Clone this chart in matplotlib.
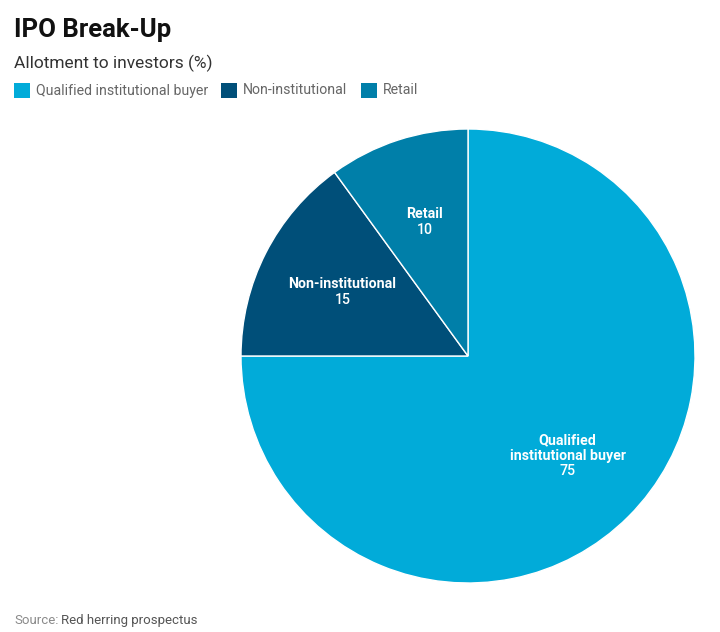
import matplotlib
matplotlib.use("Agg")
import matplotlib.pyplot as plt
from matplotlib.patches import Rectangle
import numpy as np

plt.rcParams['font.family'] = ['Roboto', 'DejaVu Sans']

# datos
categorias = ["Qualified institutional buyer", "Non-institutional", "Retail"]
etiquetas = [["Qualified", "institutional buyer"], ["Non-institutional"], ["Retail"]]
valores = [75, 15, 10]
colores = ["#01abd9", "#004f79", "#007fa9"]

W, H = 720, 632
fig = plt.figure(figsize=(W / 100, H / 100), dpi=100)

# pastel: centro (468, 356), radio 227 px
cx, cy, r = 468, 356, 227
ax = fig.add_axes([(cx - r) / W, 1 - (cy + r) / H, 2 * r / W, 2 * r / H])
ax.pie(valores, colors=colores, startangle=90, counterclock=False,
       wedgeprops=dict(edgecolor="white", linewidth=1))
ax.set_xlim(-1, 1)
ax.set_ylim(-1, 1)
ax.set_aspect("equal")
ax.axis("off")

# etiquetas dentro del pastel, bloque centrado en 0.62 del radio
inicio = 90.0
paso = 15.5  # px entre lineas
for lineas, v in zip(etiquetas, valores):
	ang = np.deg2rad(inicio - v / 100 * 360 / 2)
	inicio -= v / 100 * 360
	x, y = 0.62 * np.cos(ang), 0.62 * np.sin(ang)
	todas = lineas + [str(v)]
	n = len(todas)
	for k, txt in enumerate(todas):
		dy = ((n - 1) / 2 - k) * paso
		peso = "medium" if k == n - 1 else "bold"
		ax.annotate(txt, (x, y), xytext=(0, dy), textcoords="offset pixels",
		            ha="center", va="center", color="white",
		            fontsize=10.2, fontweight=peso)

# titulos
fig.text(14 / W, 1 - 37 / H, "IPO Break-Up", fontsize=18.5, fontweight="bold",
         color="#111111", va="baseline")
fig.text(14 / W, 1 - 68 / H, "Allotment to investors (%)", fontsize=12.5,
         color="#333333", va="baseline")

# leyenda
leyenda_x = [14, 221, 361]
for x0, c, nombre in zip(leyenda_x, colores, categorias):
	fig.patches.append(Rectangle((x0 / W, 1 - 98 / H), 16 / W, 15 / H,
	                             transform=fig.transFigure, facecolor=c,
	                             edgecolor="none"))
	fig.text((x0 + 22) / W, 1 - 90.5 / H, nombre, fontsize=10.2,
	         color="#666666", va="center")

# fuente
fig.text(14 / W, 1 - 624 / H, "Source:", fontsize=9.5, color="#8a8a8a",
         va="baseline")
fig.text(61 / W, 1 - 624 / H, "Red herring prospectus", fontsize=9.5,
         color="#555555", va="baseline")

fig.savefig("out.png", dpi=100)
